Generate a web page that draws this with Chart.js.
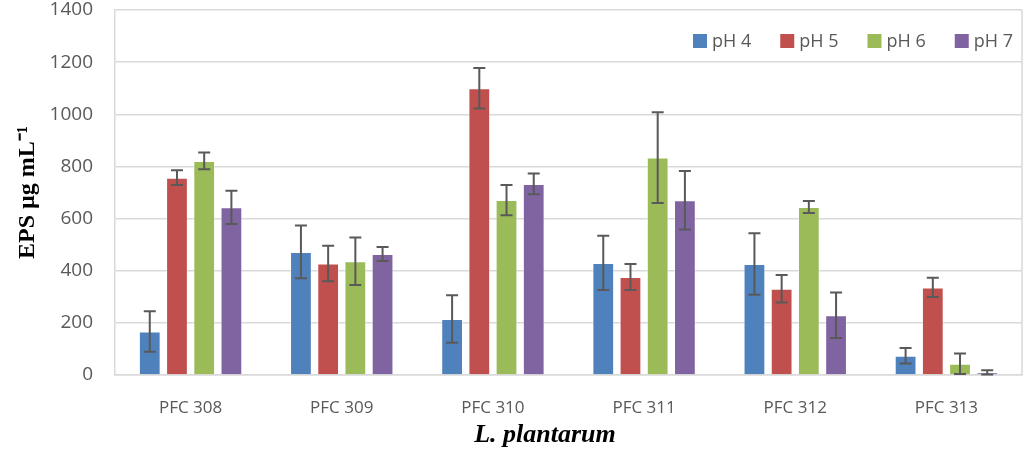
<!DOCTYPE html>
<html>
<head>
<meta charset="utf-8">
<script src="https://cdn.jsdelivr.net/npm/chart.js@4"></script>
<style>
  html, body { margin: 0; padding: 0; background: #fff; }
  #wrap { width: 1025px; height: 454px; }
</style>
</head>
<body>
<div id="wrap"><canvas id="epsChart"></canvas></div>
<script>
var strains = ['PFC 308', 'PFC 309', 'PFC 310', 'PFC 311', 'PFC 312', 'PFC 313'];
var seriesNames = ['pH 4', 'pH 5', 'pH 6', 'pH 7'];

var ph4 = [167, 472, 215, 430, 426, 74];
var ph5 = [757, 428, 1100, 376, 331, 336];
var ph6 = [821, 436, 671, 834, 644, 43];
var ph7 = [643, 464, 733, 670, 229, 10];

var ph4Err = [78, 101, 91, 104, 118, 30];
var ph5Err = [28, 68, 78, 50, 53, 37];
var ph6Err = [32, 91, 58, 174, 23, 39];
var ph7Err = [64, 27, 40, 112, 87, 8];

var yTicks = [0, 200, 400, 600, 800, 1000, 1200, 1400];

var colors = ['#4F81BD', '#C0504D', '#9BBB59', '#8064A2'];
var values = [ph4, ph5, ph6, ph7];
var errors = [ph4Err, ph5Err, ph6Err, ph7Err];

// error bars drawn from the y scale
var errorBars = {
    id: 'errorBars',
    afterDatasetsDraw: function(chart) {
        var ctx = chart.ctx;
        var y = chart.scales.y;
        ctx.save();
        ctx.strokeStyle = '#595959';
        ctx.lineWidth = 2;
        chart.data.datasets.forEach(function(ds, i) {
            var meta = chart.getDatasetMeta(i);
            meta.data.forEach(function(bar, j) {
                var v = ds.data[j], e = ds.errors[j];
                var yTop = y.getPixelForValue(v + e);
                var yBot = y.getPixelForValue(Math.max(v - e, 0));
                ctx.beginPath();
                ctx.moveTo(bar.x, yTop); ctx.lineTo(bar.x, yBot);
                ctx.moveTo(bar.x - 6, yTop); ctx.lineTo(bar.x + 6, yTop);
                ctx.moveTo(bar.x - 6, yBot); ctx.lineTo(bar.x + 6, yBot);
                ctx.stroke();
            });
        });
        ctx.restore();
    }
};

// right edge of the plot frame, legend inside the plot, x title
var plotExtras = {
    id: 'plotExtras',
    afterDraw: function(chart) {
        var a = chart.chartArea, ctx = chart.ctx;
        ctx.save();
        ctx.strokeStyle = '#D9D9D9';
        ctx.lineWidth = 1.5;
        ctx.beginPath();
        ctx.moveTo(a.right, a.top); ctx.lineTo(a.right, a.bottom);
        ctx.stroke();

        ctx.font = '18px "Open Sans"';
        ctx.textBaseline = 'middle';
        var box = 14, gap = 5, spacing = 29;
        var cy = a.top + 31;
        var x = a.right - 9;
        var items = chart.data.datasets.slice().reverse();
        items.forEach(function(ds) {
            var w = ctx.measureText(ds.label).width;
            x -= w;
            ctx.fillStyle = '#595959';
            ctx.fillText(ds.label, x, cy + 1);
            x -= gap + box;
            ctx.fillStyle = ds.backgroundColor;
            ctx.fillRect(x, cy - box / 2, box, box);
            x -= spacing;
        });

        ctx.font = 'italic bold 26px "Liberation Serif"';
        ctx.fillStyle = '#000';
        ctx.textAlign = 'center';
        ctx.fillText('L. plantarum', 545, 435);
        ctx.restore();
    }
};

var ctx = document.getElementById('epsChart').getContext('2d');
var epsChart = new Chart(ctx, {
    type: 'bar',
    data: {
        labels: strains,
        datasets: seriesNames.map(function(name, i) {
            return {
                label: name,
                data: values[i],
                errors: errors[i],
                backgroundColor: colors[i],
                borderColor: 'rgba(255,255,255,0.45)',
                borderWidth: 1,
                categoryPercentage: 0.72,
                barPercentage: 0.8
            };
        })
    },
    options: {
        responsive: true,
        maintainAspectRatio: false,
        animation: false,
        layout: { padding: { left: 0, right: 3, top: 10, bottom: 2 } },
        scales: {
            x: {
                afterFit: function(scale) { scale.height = 77; },
                grid: { display: false },
                border: { color: '#D9D9D9', width: 1.5 },
                ticks: { color: '#595959', font: { family: 'Open Sans', size: 17 }, padding: 15 }
            },
            y: {
                min: 0,
                max: 1400,
                afterBuildTicks: function(scale) {
                    scale.ticks = yTicks.map(function(v) { return { value: v }; });
                },
                afterFit: function(scale) {
                    scale.width = 115;
                    scale.paddingTop = 0;
                    scale.paddingBottom = 0;
                },
                grid: { color: '#D9D9D9', lineWidth: 1.5, drawTicks: false },
                border: { color: '#D9D9D9', width: 1.5 },
                ticks: {
                    color: '#595959',
                    font: { family: 'Open Sans', size: 19 },
                    padding: 22,
                    callback: function(v) { return String(v); }
                },
                title: {
                    display: true,
                    text: 'EPS µg mL⁻¹',
                    color: '#000',
                    font: { family: 'Liberation Serif', size: 24, weight: 'bold' },
                    padding: { top: 13, bottom: 8 }
                }
            }
        },
        plugins: {
            legend: { display: false },
            tooltip: { enabled: false }
        }
    },
    plugins: [errorBars, plotExtras]
});
</script>
</body>
</html>
